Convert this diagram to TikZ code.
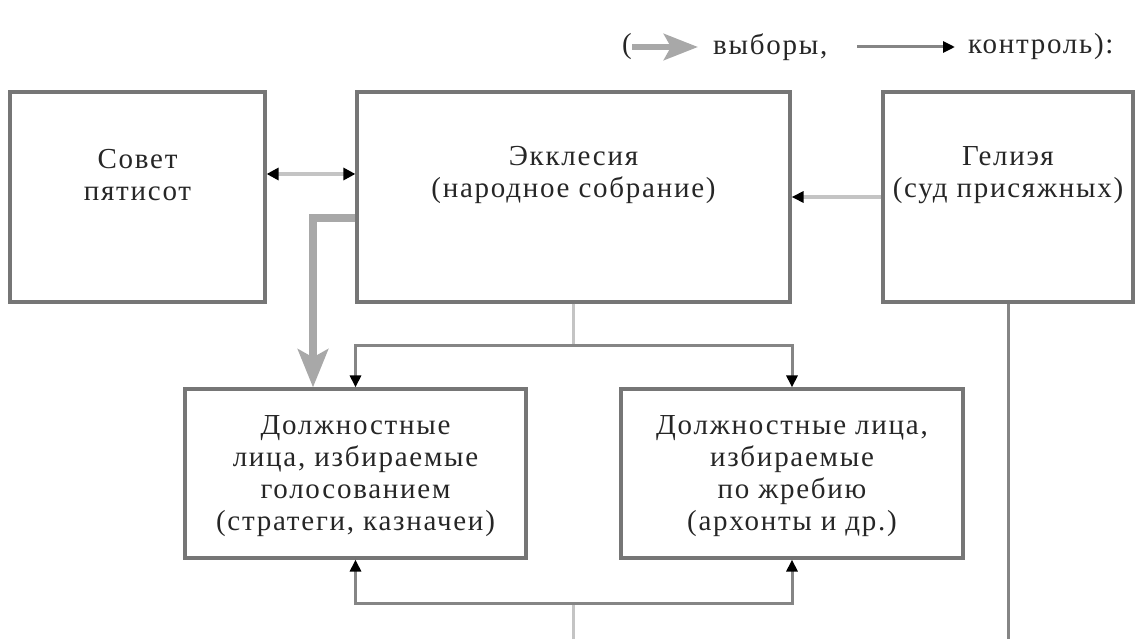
\documentclass[tikz,border=0pt]{standalone}
\usepackage{fontspec}
\setmainfont[LetterSpace=6]{Liberation Serif}
\usetikzlibrary{arrows.meta}
\definecolor{boxgray}{HTML}{767676}
\definecolor{lightline}{HTML}{C4C4C4}
\definecolor{ctrlgray}{HTML}{858585}
\definecolor{electgray}{HTML}{A8A8A8}
\begin{document}
\begin{tikzpicture}[x=1pt,y=-1pt,
  box/.style={draw=boxgray, line width=3.2pt, inner sep=0pt},
  txt/.style={font=\fontsize{29}{32}\selectfont, align=center, text=black!85, inner sep=0pt},
  tipblk/.style={-{Triangle[length=12pt,width=11pt,color=black]}},
  ctl/.style={draw=ctrlgray, line width=3pt},
  lite/.style={draw=lightline, line width=4.5pt},
  elect/.style={draw=electgray, line width=7.5pt, -{Stealth[length=38pt,width=30pt,inset=8pt]}},
]
\useasboundingbox (0,0) rectangle (1136,639);

% boxes
\node[box, minimum width=255pt, minimum height=210pt] (sovet) at (137.5,197) {};
\node[box, minimum width=433pt, minimum height=210pt] (ekk) at (573.5,197) {};
\node[box, minimum width=250pt, minimum height=210pt] (gel) at (1008,197) {};
\node[box, minimum width=341pt, minimum height=169pt] (d1) at (355.5,473.5) {};
\node[box, minimum width=342pt, minimum height=169pt] (d2) at (792,473.5) {};

% texts
\node[txt] (sovett) at ([yshift=22pt]sovet.center) {Совет\\пятисот};
\node[txt] (ekkt) at ([yshift=22pt]ekk.center) {Экклесия\\(народное собрание)};
\node[txt] (gelt) at ([yshift=22pt]gel.center) {Гелиэя\\(суд присяжных)};
\node[txt] (d1t) at ([yshift=-3pt]d1.center) {Должностные\\лица, избираемые\\голосованием\\(стратеги, казначеи)};
\node[txt] (d2t) at ([yshift=-3pt]d2.center) {Должностные лица,\\избираемые\\по жребию\\(архонты и др.)};

% legend
\node[txt, anchor=east] (lpar) at (632,47) {(};
\coordinate (le1) at (698,47);
\node[txt, anchor=west] (lvyb) at (713,47) {выборы,};
\coordinate (lc0) at (857,47);
\coordinate (lc1) at (955,47);
\node[txt, anchor=west] (lkon) at (968,47) {контроль):};
\draw[draw=electgray, line width=6.5pt, -{Stealth[length=34pt,width=26pt,inset=7pt]}] (lpar.east) -- (le1);
\draw[ctl, tipblk] (lc0) -- (lc1);

% Sovet <-> Ekklesia
\draw[lite, {Triangle[length=12pt,width=12pt,color=black]}-{Triangle[length=12pt,width=12pt,color=black]}]
  ([yshift=23pt]sovet.east) -- ([yshift=23pt]ekk.west);
% Heliaia -> Ekklesia
\draw[lite, tipblk] (gel.west) -- (ekk.east);

% elections
\draw[elect] ([yshift=-21pt]ekk.west) -| ([xshift=-42.5pt]d1.north);

% control from Ekklesia
\coordinate (jt) at ([yshift=-42pt]ekk.south);
\draw[lite, line width=3.5pt] (ekk.south) -- (jt);
\draw[ctl, tipblk] (jt) -| (d1.north);
\draw[ctl, tipblk] (jt) -| (d2.north);

% control from below
\coordinate (jb) at (573.5,603);
\coordinate (cb) at (573.5,639);
\draw[lite, line width=3.5pt] (cb) -- (jb);
\draw[ctl, tipblk] (jb) -| (d1.south);
\draw[ctl, tipblk] (jb) -| (d2.south);

% Heliaia down
\coordinate (gb) at (1008,639);
\draw[ctl] (gel.south) -- (gb);
\end{tikzpicture}
\end{document}
